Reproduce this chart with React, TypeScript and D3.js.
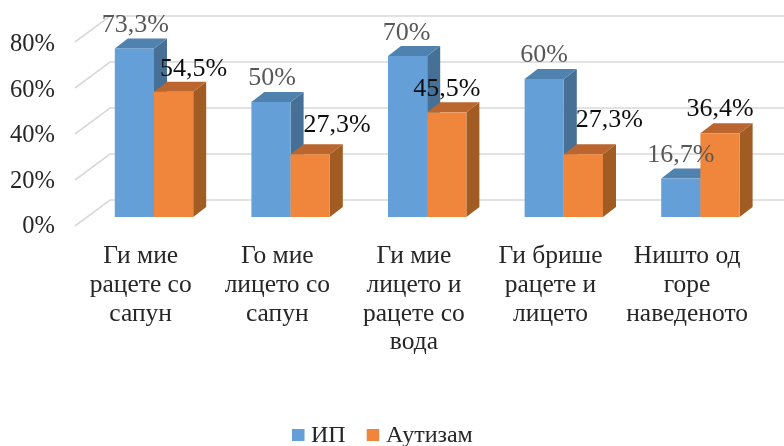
import React from "react";
import * as d3 from "d3";

const categories: string[][] = [
  ["Ги мие", "рацете со", "сапун"],
  ["Го мие", "лицето со", "сапун"],
  ["Ги мие", "лицето и", "рацете со", "вода"],
  ["Ги брише", "рацете и", "лицето"],
  ["Ништо од", "горе", "наведеното"],
];
const seriesNames = ["ИП", "Аутизам"];
const ipValues = [73.3, 50, 70, 60, 16.7];
const autismValues = [54.5, 27.3, 45.5, 27.3, 36.4];
const ipLabels = ["73,3%", "50%", "70%", "60%", "16,7%"];
const autismLabels = ["54,5%", "27,3%", "45,5%", "27,3%", "36,4%"];
const yTicks = [0, 20, 40, 60, 80];

const ipLabelNudge = [[1, -16], [1, -17], [-1, -16], [0, -17], [0, -17]];
const autismLabelNudge = [[20, -16], [27, -22], [0, -16], [26, -27], [0, -17]];

const W = 784, H = 446;
const FONT = "'Liberation Serif', 'Times New Roman', serif";
const depthX = 13, depthY = 10;
const wallX = 35, wallY = 26;
const floorY = 226;
const barBase = 217;
const unit = 2.3;

const COLORS = [
  { front: "#659FD8", top: "#5082AE", side: "#467096" },
  { front: "#F0863A", top: "#BA662E", side: "#A05C24" },
];

const y = d3.scaleLinear().domain([0, 80]).range([barBase, barBase - 80 * unit]);
const x = d3.scaleBand<number>().domain(d3.range(categories.length)).range([85.7, 85.7 + 683]).paddingInner(0).paddingOuter(0);
const barW = 39.2;

function Bar({ cx, value, c }: { cx: number; value: number; c: typeof COLORS[0] }) {
  const t = y(value), b = y(0), r = cx + barW;
  return (
    <g>
      <polygon fill={c.side} points={`${r},${t} ${r + depthX},${t - depthY} ${r + depthX},${b - depthY} ${r},${b}`} />
      <polygon fill={c.top} points={`${cx},${t} ${cx + depthX},${t - depthY} ${r + depthX},${t - depthY} ${r},${t}`} />
      <rect x={cx} y={t} width={barW} height={b - t} fill={c.front} />
    </g>
  );
}

export default function App() {
  return (
    <svg width={W} height={H} viewBox={`0 0 ${W} ${H}`} style={{ position: "absolute", left: 0, top: 0, background: "#fff" }} fontFamily={FONT}>
      <defs>
        <filter id="soft" x="-5%" y="-5%" width="110%" height="110%">
          <feGaussianBlur stdDeviation="0.5" />
        </filter>
      </defs>
      <g filter="url(#soft)">
        {yTicks.map((t) => {
          const yf = floorY - t * unit;
          return (
            <g key={t}>
              <polyline fill="none" stroke="#D9D9D9" strokeWidth={1.6} points={`75,${yf} ${75 + wallX},${yf - wallY} ${W},${yf - wallY}`} />
              <text x={55} y={233 - t * 2.275} textAnchor="end" fontSize={24.5} fill="#262626">{t}%</text>
            </g>
          );
        })}
        {categories.map((_, i) => {
          const c = x(i)! + x.bandwidth() / 2;
          return (
            <g key={i}>
              <Bar cx={c - barW} value={ipValues[i]} c={COLORS[0]} />
              <Bar cx={c} value={autismValues[i]} c={COLORS[1]} />
            </g>
          );
        })}
        {categories.map((_, i) => {
          const c = x(i)! + x.bandwidth() / 2;
          return (
            <g key={i} fontSize={26} textAnchor="middle">
              <text x={c - barW / 2 + ipLabelNudge[i][0]} y={y(ipValues[i]) + ipLabelNudge[i][1]} fill="#595959">{ipLabels[i]}</text>
              <text x={c + barW / 2 + autismLabelNudge[i][0]} y={y(autismValues[i]) + autismLabelNudge[i][1]} fill="#111">{autismLabels[i]}</text>
            </g>
          );
        })}
        {categories.map((lines, i) => (
          <text key={i} textAnchor="middle" fontSize={25.5} fill="#262626">
            {lines.map((l, j) => (
              <tspan key={j} x={x(i)! + x.bandwidth() / 2 - 13.3} y={263.3 + j * 28.7}>{l}</tspan>
            ))}
          </text>
        ))}
        <rect x={292} y={429} width={12.5} height={12} fill={COLORS[0].front} />
        <text x={311} y={442} fontSize={24} fill="#262626">{seriesNames[0]}</text>
        <rect x={366.7} y={429} width={12.5} height={12} fill={COLORS[1].front} />
        <text x={386} y={442} fontSize={24} fill="#262626">{seriesNames[1]}</text>
      </g>
    </svg>
  );
}
